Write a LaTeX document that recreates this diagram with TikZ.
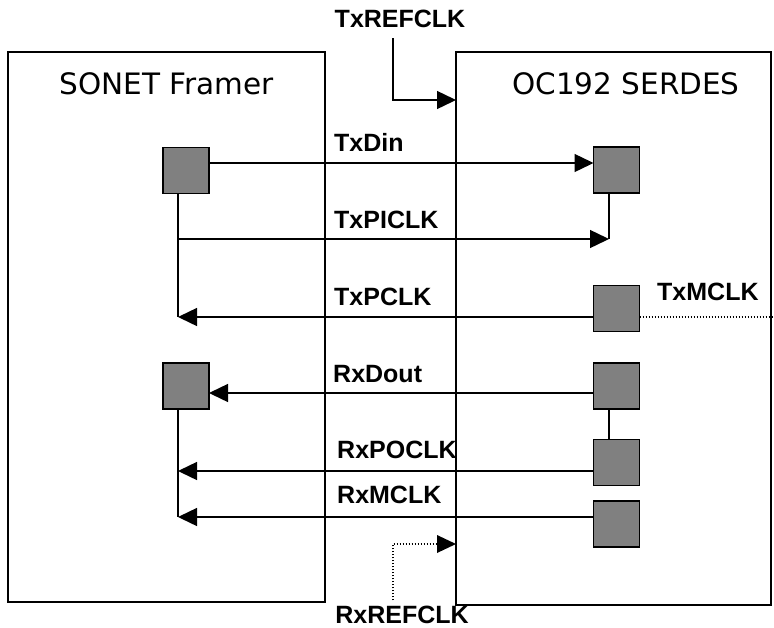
\documentclass[tikz,border=0pt]{standalone}
\usepackage{fontspec}
\setmainfont{DejaVu Sans}
\newfontfamily\labelfont{Liberation Sans}
\usetikzlibrary{arrows.meta}
\definecolor{blockgray}{HTML}{808080}
\begin{document}
\begin{tikzpicture}[x=1pt,y=-1pt,
  chip/.style={draw=black, line width=1.3pt, minimum width=#1, minimum height=550pt,
    anchor=north west, inner sep=0pt, outer sep=0pt},
  cell/.style={draw=black, fill=blockgray, line width=1.8pt, minimum size=46pt,
    inner sep=0pt, outer sep=0pt},
  title/.style={font=\fontsize{29.5}{30}\selectfont, anchor=base, inner sep=0pt},
  sigfont/.style={font=\labelfont\fontsize{25}{26}\selectfont\bfseries, inner sep=0pt},
  sig/.style={sigfont, anchor=base west},
  wire/.style={line width=1.4pt},
  arr/.style={wire, -{Triangle[length=19pt,width=18pt]}},
  dots/.style={line width=1.1pt, dash pattern=on 1pt off 2pt}]
\useasboundingbox (0,0) rectangle (774,627);

% the two devices
\node[chip=317pt] (framer) at (8,52) {};
\node[chip=315pt, minimum height=553pt] (serdes) at (456,52) {};
\node[title] (ftitle) at (166.5,94) {SONET Framer};
\node[title] (stitle) at (626,94) {OC192 SERDES};

% register cells
\node[cell] (ls1) at (186,170.5) {};
\node[cell] (ls2) at (186,386) {};
\node[cell] (rs1) at (616.5,170) {};
\node[cell] (rs2) at (616.5,308.5) {};
\node[cell] (rs3) at (616.5,386) {};
\node[cell] (rs4) at (616.5,462.5) {};
\node[cell] (rs5) at (616.5,524) {};

% junction points on the clock traces
\coordinate (jl1) at (178,239);
\coordinate (jr1) at (609,239);
\coordinate (jl2) at (178,317);
\coordinate (jl3) at (178,471);
\coordinate (jl4) at (178,517);
\coordinate (mclk) at (774,317);

% transmit side
\draw[arr] ([yshift=7.5pt]ls1.east) -- ([yshift=7pt]rs1.west);
\draw[wire] ([xshift=-8pt]ls1.south) -- (jl2);
\draw[arr] (jl1) -- (jr1);
\draw[wire] ([xshift=-7.5pt]rs1.south) -- (jr1);
\draw[arr] ([yshift=-8.5pt]rs2.west) -- (jl2);
\draw[dots] ([yshift=-8.5pt]rs2.east) -- (mclk);

% receive side
\draw[arr] ([yshift=-7pt]rs3.west) -- ([yshift=-7pt]ls2.east);
\draw[wire] ([xshift=-7.5pt]rs3.south) -- ([xshift=-7.5pt]rs4.north);
\draw[arr] ([yshift=-8.5pt]rs4.west) -- (jl3);
\draw[arr] ([yshift=7pt]rs5.west) -- (jl4);
\draw[wire] ([xshift=-8pt]ls2.south) -- (jl4);

% reference clocks
\node[sigfont, anchor=base] (txref) at (400,27) {TxREFCLK};
\node[sigfont, anchor=base] (rxref) at (402,623) {RxREFCLK};
\coordinate (txbend) at (393,100);
\coordinate (rxbend) at (393,544);
\draw[arr] (txref.south -| txbend) ++(0,11) coordinate (txstart) -- (txbend) -- ([yshift=-48pt]serdes.north west);
\draw[dots] (rxref.north -| rxbend) ++(0,-5) coordinate (rxstart) -- (rxbend) -- ([xshift=-18pt]serdes.west |- rxbend);
\fill ([xshift=-19pt,yshift=-9pt]serdes.west |- rxbend) -- ([xshift=-19pt,yshift=9pt]serdes.west |- rxbend) -- (serdes.west |- rxbend) -- cycle;

% signal labels
\node[sig] (l1) at (334,151) {TxDin};
\node[sig] (l2) at (334,228) {TxPICLK};
\node[sig] (l3) at (334,305) {TxPCLK};
\node[sig] (l4) at (333,382) {RxDout};
\node[sig] (l5) at (337,458) {RxPOCLK};
\node[sig] (l6) at (337,503) {RxMCLK};
\node[sig] (l7) at (657,300) {TxMCLK};
\end{tikzpicture}
\end{document}
